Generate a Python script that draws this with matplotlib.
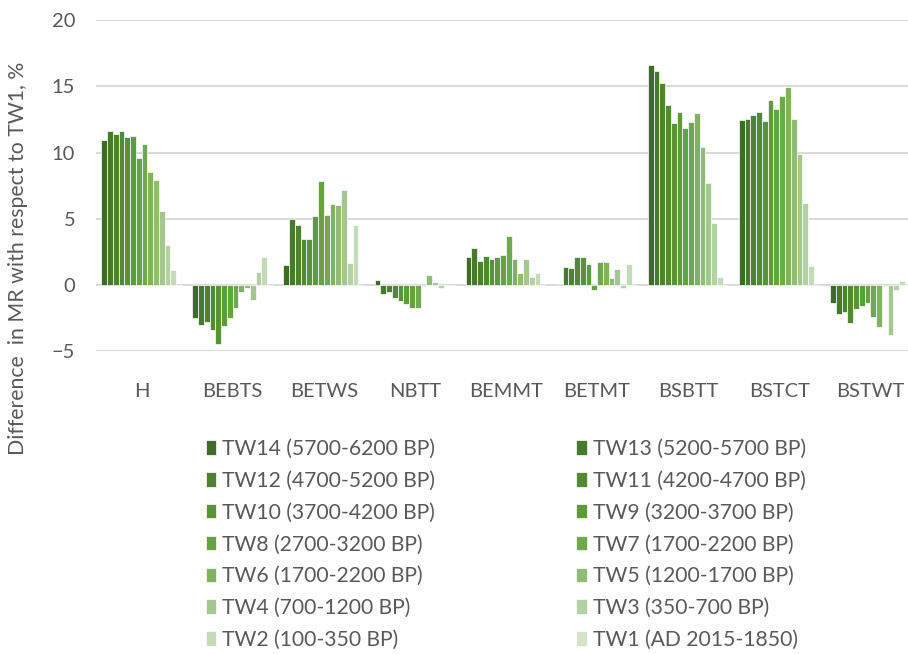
import numpy as np
import matplotlib
matplotlib.use("Agg")
import matplotlib.pyplot as plt

# 类别与时间窗 (TW14 -> TW1)
categories = ["H", "BEBTS", "BETWS", "NBTT", "BEMMT", "BETMT", "BSBTT", "BSTCT", "BSTWT"]
series = ["TW14 (5700-6200 BP)", "TW13 (5200-5700 BP)", "TW12 (4700-5200 BP)",
          "TW11 (4200-4700 BP)", "TW10 (3700-4200 BP)", "TW9 (3200-3700 BP)",
          "TW8 (2700-3200 BP)", "TW7 (1700-2200 BP)", "TW6 (1700-2200 BP)",
          "TW5 (1200-1700 BP)", "TW4 (700-1200 BP)", "TW3 (350-700 BP)",
          "TW2 (100-350 BP)", "TW1 (AD 2015-1850)"]

# 每个类别 14 个值, 顺序 TW14 ... TW1
H = [10.95, 11.6, 11.4, 11.6, 11.15, 11.25, 9.6, 10.65, 8.55, 7.9, 5.55, 3.0, 1.1, 0]
BEBTS = [-2.45, -3.0, -2.8, -3.4, -4.45, -3.1, -2.5, -1.7, -0.5, -0.25, -1.1, 0.95, 2.1, 0]
BETWS = [1.5, 4.95, 4.5, 3.45, 3.5, 5.2, 7.85, 5.3, 6.1, 6.05, 7.2, 1.7, 4.5, 0]
NBTT = [0.4, -0.68, -0.5, -0.95, -1.2, -1.4, -1.75, -1.75, -0.08, 0.78, 0.25, -0.2, 0, 0]
BEMMT = [2.15, 2.8, 1.85, 2.2, 1.95, 2.1, 2.25, 3.7, 2.0, 0.9, 2.0, 0.6, 0.9, 0]
BETMT = [0.08, 1.35, 1.32, 2.1, 2.15, 1.6, -0.35, 1.72, 1.72, 0.5, 1.22, -0.25, 1.62, 0]
BSBTT = [16.6, 16.15, 15.25, 13.6, 12.25, 13.05, 11.85, 12.3, 13.0, 10.4, 7.7, 4.7, 0.6, 0]
BSTCT = [12.45, 12.55, 12.8, 13.05, 12.35, 14.0, 13.25, 14.3, 14.95, 12.55, 9.9, 6.2, 1.45, 0]
BSTWT = [-1.35, -2.15, -2.0, -2.85, -1.8, -1.6, -1.35, -2.4, -3.15, -0.05, -3.75, -0.4, 0.3, 0]

colors = ["#3e6b26", "#467a2c", "#4c8230", "#518a33", "#579337", "#5d9c3b", "#64a340",
          "#6fa94d", "#80b262", "#91bc78", "#a3c78e", "#b4d1a4", "#c4dbb8", "#d3e4ca"]

values = np.array([H, BEBTS, BETWS, NBTT, BEMMT, BETMT, BSBTT, BSTCT, BSTWT])

plt.rcParams["font.family"] = ["Lato", "DejaVu Sans"]
grey = "#595959"
fs = 14.5

W, Hh = 908, 654
fig = plt.figure(figsize=(W / 100, Hh / 100), dpi=100)
ax = fig.add_axes([96 / W, 1 - 351.3 / Hh, (W - 96) / W, (351.3 - 20) / Hh])

x = np.arange(len(categories))
n = len(series)
bw = 0.0632
handles = []
for j in range(n):
    b = ax.bar(x - (n - 1) / 2 * bw + j * bw, values[:, j], width=bw,
               color=colors[j], edgecolor="white", linewidth=0.5, zorder=3)
    handles.append(b)

ax.set_ylim(-5, 20)
ax.set_yticks([-5, 0, 5, 10, 15, 20])
ax.set_xlim(-0.5, (W - 96) / 91.1 - 0.5)
ax.set_xticks(x)
ax.set_xticklabels(categories)
ax.yaxis.grid(True, color="#d9d9d9", linewidth=1.4, zorder=0)
ax.set_axisbelow(True)
for s in ax.spines.values():
    s.set_visible(False)
ax.tick_params(axis="x", length=0, pad=23, labelsize=fs, labelcolor=grey)
ax.tick_params(axis="y", length=0, pad=15, labelsize=fs, labelcolor=grey)

fig.text(18 / W, 1 - 258 / Hh, "Difference  in MR with respect to TW1, %", rotation=90,
         ha="center", va="center", fontsize=15.3, color=grey)

# 图例按行排列: 左列偶数项, 右列奇数项
order = list(range(0, n, 2)) + list(range(1, n, 2))
leg = fig.legend([handles[i] for i in order], [series[i] for i in order],
                 ncol=2, loc="upper left", bbox_to_anchor=(206 / W, 1 - 439 / Hh),
                 frameon=False, fontsize=15.2, handlelength=0.48, handleheight=0.68,
                 handletextpad=0.28, labelspacing=0.56, columnspacing=6.7,
                 borderaxespad=0, borderpad=0)
for t in leg.get_texts():
    t.set_color(grey)

fig.savefig("out.png", dpi=100)
